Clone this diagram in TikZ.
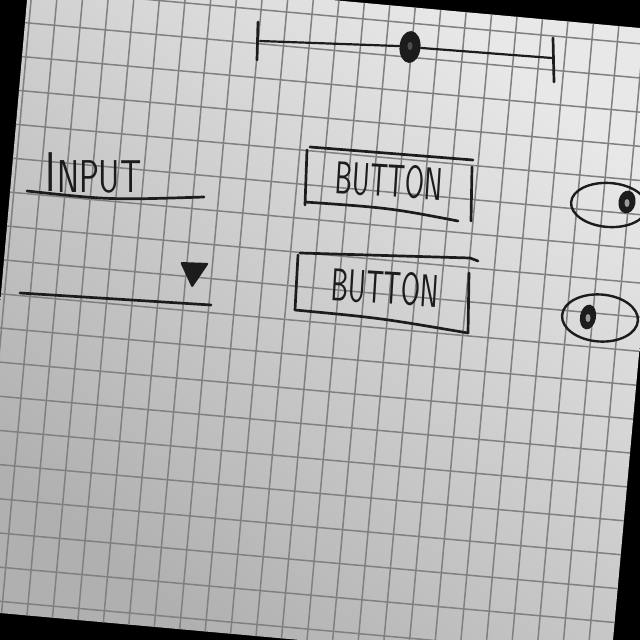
\documentclass[tikz,border=0pt]{standalone}
\usepackage{graphicx}
\usetikzlibrary{shapes.geometric}
\definecolor{inkgray}{RGB}{28,28,28}
\definecolor{gridgray}{RGB}{128,128,128}
\definecolor{paperlight}{RGB}{232,232,232}
\definecolor{paperdark}{RGB}{176,176,176}
\newcommand{\sketchfont}{\sffamily\fontsize{46}{46}\selectfont}

\begin{document}
\begin{tikzpicture}[x=1pt,y=-1pt,
  ink/.style={draw=inkgray,line width=2.7pt,line cap=round,line join=round},
  gridline/.style={draw=gridgray,line width=1.5pt},
  knob/.style={ellipse,fill=inkgray,inner sep=0pt},
  shine/.style={ellipse,fill=gray!80,inner sep=0pt,minimum width=5pt,minimum height=8pt},
  toggle/.style={ellipse,draw=inkgray,line width=2.4pt,inner sep=0pt},
  sketchtext/.style={text=inkgray,inner sep=0pt,font=\sketchfont}]
  \useasboundingbox (0,0) rectangle (640,640);
  % Background and paper
  \fill[black] (0,0) rectangle (640,640);
  \shade[top color=paperlight,bottom color=paperdark,shading angle=-40]
    (27,0) -- (332,0) -- (640,28) -- (640,343) -- (613,640) -- (300,640) -- (0,613) -- (0,305) -- cycle;
  % Grid
  \begin{scope}
    \clip (27,0) -- (332,0) -- (640,28) -- (640,343) -- (613,640) -- (300,640) -- (0,613) -- (0,305) -- cycle;
    \begin{scope}[shift={(29,23)},x={(25.45pt,-2.29pt)},y={(-3.05pt,-33.9pt)}]
      \foreach \i in {-2,...,26} \draw[gridline] (\i,-2) -- (\i,20);
      \foreach \j in {-2,...,19} \draw[gridline] (-3,\j) -- (27,\j);
    \end{scope}
  \end{scope}

  % Slider
  \coordinate (sliderL) at (260,41);
  \coordinate (sliderR) at (552,58);
  \node[knob,minimum width=21pt,minimum height=32pt,rotate=-5] (sliderKnob) at (410,47) {};
  \node[shine,fill=gray!50!inkgray] (sliderShine) at (410,46) {};
  \draw[ink,line width=2.2pt] (sliderL) -- (sliderKnob.west);
  \draw[ink,line width=2.2pt] (sliderKnob.east) -- (sliderR);
  \draw[ink] (258,22) -- (257,60);
  \draw[ink] (553,38) -- (554,82);

  % Input field
  \node[sketchtext,anchor=base west] (input) at (45,192)
    {\scalebox{0.72}[1]{\raisebox{1pt}{\fontsize{56}{56}\selectfont I}\kern2pt NPUT}};
  \draw[ink] (27,191) .. controls (110,200) .. (204,197);

  % Dropdown
  \fill[inkgray,rounded corners=2pt] (180,262) -- (209,263) -- (192,288) -- cycle;
  \draw[ink] (20,293) -- (211,305);

  % Buttons
  \node[sketchtext,rotate=-3.5] (buttonA) at (389,181) {\scalebox{0.6}[1]{BUTTON}};
  \draw[ink] (310,147) -- (473,160);
  \draw[ink] (307,150) -- (305,205);
  \draw[ink] (305,202) .. controls (390,208) .. (458,221);
  \draw[ink] (472,167) -- (471,221);

  \node[sketchtext,rotate=-3.5] (buttonB) at (385,288) {\scalebox{0.6}[1]{BUTTON}};
  \draw[ink] (300,253) -- (470,258) -- (478,261);
  \draw[ink] (298,255) -- (295,310);
  \draw[ink] (295,310) .. controls (380,318) .. (468,333);
  \draw[ink] (469,273) -- (468,333);

  % Toggles
  \node[toggle,minimum width=76pt,minimum height=44pt,rotate=-4] (toggleA) at (609,205) {};
  \node[knob,minimum width=17pt,minimum height=23pt,rotate=-10] (toggleAKnob) at (627,202) {};
  \node[shine] (toggleAShine) at (627,203) {};
  \node[toggle,minimum width=76pt,minimum height=47pt,rotate=-4] (toggleB) at (600,318) {};
  \node[knob,minimum width=16pt,minimum height=25pt,rotate=-10] (toggleBKnob) at (588,317) {};
  \node[shine] (toggleBShine) at (588,318) {};
\end{tikzpicture}
\end{document}
